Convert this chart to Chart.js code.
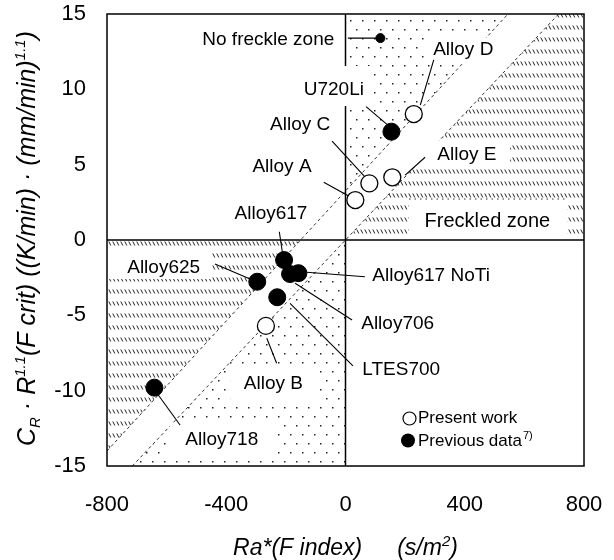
<!DOCTYPE html>
<html>
<head>
<meta charset="utf-8">
<script src="https://cdn.jsdelivr.net/npm/chart.js@4.4.0/dist/chart.umd.min.js"></script>
<style>
  html, body { margin: 0; padding: 0; background: #fff; }
</style>
</head>
<body>
<canvas id="chart" width="614" height="560"></canvas>
<script>
// values
const presentNames = ['Alloy A', 'Alloy B', 'Alloy C', 'Alloy D', 'Alloy E'];
const presentX = [33, -267, 80, 229, 157];
const presentY = [2.65, -5.7, 3.76, 8.36, 4.16];

const previousNames = ['U720Li', 'Alloy617', 'Alloy617 NoTi', 'Alloy706', 'Alloy625', 'LTES700', 'Alloy718'];
const previousX = [154, -206, -158, -186, -296, -229, -641];
const previousY = [7.19, -1.33, -2.2, -2.26, -2.77, -3.8, -9.8];

const boundX = [117];
const boundY = [13.4];

const xTicks = [-800, -400, 0, 400, 800];
const yTicks = [-15, -10, -5, 0, 5, 10, 15];

// the two dashed boundaries (end points, data units)
const upperLine = [[-800, -14.0], [545, 15]];
const lowerLine = [[-715, -15], [715, 15]];

const FONT = "'Liberation Sans', Arial, sans-serif";

function xAt(l, vy) {
    const [[x1, y1], [x2, y2]] = l;
    return x1 + (vy - y1) * (x2 - x1) / (y2 - y1);
}
function yAt(l, vx) {
    const [[x1, y1], [x2, y2]] = l;
    return y1 + (vx - x1) * (y2 - y1) / (x2 - x1);
}

// shaded zones
const zones = [
    { kind: 'dots', pts: [[0, 15], [xAt(upperLine, 15), 15], [0, yAt(upperLine, 0)]] },
    { kind: 'hatch', pts: [[xAt(lowerLine, 0), 0], [xAt(lowerLine, 15), 15], [800, 15], [800, 0]] },
    { kind: 'hatch', pts: [[-800, 0], [xAt(upperLine, 0), 0], [-800, yAt(upperLine, -800)]] },
    { kind: 'dots', pts: [[xAt(lowerLine, 0), 0], [0, 0], [0, -15], [xAt(lowerLine, -15), -15]] }
];

// labels: centre, optional white box, optional leader (data units)
const notes = [
    { text: 'No freckle zone', at: [-259, 13.32], line: [[8, 13.4], [117, 13.4]] },
    { text: 'Alloy D', at: [395, 12.61], box: [266, 13.41, 518, 11.68], line: [[296, 11.95], [251, 8.96]] },
    { text: 'U720Li', at: [-39, 10.0], box: [-153, 11.55, 86, 8.89], line: [[69, 8.85], [145, 7.57]] },
    { text: 'Alloy C', at: [-152, 7.63], line: [[-45, 6.57], [69, 4.11]] },
    { text: 'Alloy A', at: [-213, 4.87], line: [[-73, 3.83], [15, 2.87]] },
    { text: 'Alloy E', at: [407, 5.64], box: [183, 6.57, 552, 4.98], line: [[267, 5.49], [200, 4.3]] },
    { text: 'Freckled zone', at: [476, 1.22], box: [213, 2.72, 743, 0.13], dottedTop: true },
    { text: 'Alloy617', at: [-250, 1.77], line: [[-222, 0.55], [-212, -0.78]] },
    { text: 'Alloy625', at: [-610, -1.84], box: [-800, -0.86, -448, -2.59], line: [[-438, -1.59], [-320, -2.59]] },
    { text: 'Alloy617 NoTi', at: [287, -2.39], line: [[-130, -2.14], [65, -2.44]] },
    { text: 'Alloy706', at: [175, -5.53], line: [[-169, -2.87], [22, -5.31]] },
    { text: 'LTES700', at: [187, -8.58], line: [[-186, -4.2], [25, -8.36]] },
    { text: 'Alloy B', at: [-242, -9.56], box: [-387, -8.3, -89, -10.75], line: [[-231, -8.18], [-264, -6.52]] },
    { text: 'Alloy718', at: [-415, -13.23], box: [-589, -12.15, -233, -14.27], line: [[-555, -12.28], [-628, -10.29]] }
];

function makePattern(ctx, kind) {
    const t = document.createElement('canvas');
    if (kind === 'dots') {
        t.width = 12; t.height = 18;
        const g = t.getContext('2d');
        g.fillStyle = '#222';
        g.fillRect(2, 2, 1.5, 1.5);
        g.fillRect(8, 11, 1.5, 1.5);
    } else {
        t.width = 4; t.height = 12;
        const g = t.getContext('2d');
        g.strokeStyle = '#222';
        g.lineWidth = 1;
        g.beginPath();
        g.moveTo(0.8, 1.5);
        g.lineTo(2.8, 5.5);
        g.stroke();
    }
    return ctx.createPattern(t, 'repeat');
}

function drawPieces(ctx, pieces, x0, y0) {
    let x = x0;
    pieces.forEach(p => {
        ctx.font = 'italic ' + p.size + 'px ' + FONT;
        ctx.fillText(p.t, x, y0 + (p.dy || 0));
        x += ctx.measureText(p.t).width + (p.gap || 0);
    });
}
function piecesWidth(ctx, pieces) {
    let w = 0;
    pieces.forEach(p => {
        ctx.font = 'italic ' + p.size + 'px ' + FONT;
        w += ctx.measureText(p.t).width + (p.gap || 0);
    });
    return w;
}

const backdrop = {
    id: 'backdrop',
    beforeDatasetsDraw(chart) {
        const { ctx, chartArea: a, scales: { x, y } } = chart;
        const px = v => x.getPixelForValue(v);
        const py = v => y.getPixelForValue(v);
        const dots = makePattern(ctx, 'dots');
        const hatch = makePattern(ctx, 'hatch');

        ctx.save();
        ctx.beginPath();
        ctx.rect(a.left, a.top, a.width, a.height);
        ctx.clip();

        zones.forEach(z => {
            ctx.beginPath();
            z.pts.forEach(([vx, vy], i) => i ? ctx.lineTo(px(vx), py(vy)) : ctx.moveTo(px(vx), py(vy)));
            ctx.closePath();
            ctx.fillStyle = z.kind === 'dots' ? dots : hatch;
            ctx.fill();
        });

        ctx.setLineDash([3, 3]);
        ctx.lineWidth = 1;
        ctx.strokeStyle = '#333';
        [upperLine, lowerLine].forEach(l => {
            ctx.beginPath();
            ctx.moveTo(px(l[0][0]), py(l[0][1]));
            ctx.lineTo(px(l[1][0]), py(l[1][1]));
            ctx.stroke();
        });
        ctx.setLineDash([]);

        // cross at zero
        ctx.lineWidth = 1.5;
        ctx.strokeStyle = '#000';
        ctx.beginPath();
        ctx.moveTo(px(0), a.top);
        ctx.lineTo(px(0), a.bottom);
        ctx.moveTo(a.left, py(0));
        ctx.lineTo(a.right, py(0));
        ctx.stroke();

        // label boxes
        notes.forEach(n => {
            if (!n.box) return;
            const [x1, y1, x2, y2] = n.box;
            ctx.fillStyle = '#fff';
            ctx.fillRect(px(x1), py(y1), px(x2) - px(x1), py(y2) - py(y1));
            if (n.dottedTop) {
                ctx.setLineDash([1.5, 4]);
                ctx.lineWidth = 1;
                ctx.strokeStyle = '#333';
                ctx.beginPath();
                ctx.moveTo(px(x1), py(y1));
                ctx.lineTo(px(x2), py(y1));
                ctx.stroke();
                ctx.setLineDash([]);
            }
        });
        ctx.restore();

        // frame
        ctx.save();
        ctx.lineWidth = 1.5;
        ctx.strokeStyle = '#000';
        ctx.strokeRect(a.left, a.top, a.width, a.height);

        // leaders and texts
        ctx.lineWidth = 1.1;
        notes.forEach(n => {
            if (n.line) {
                ctx.beginPath();
                ctx.moveTo(px(n.line[0][0]), py(n.line[0][1]));
                ctx.lineTo(px(n.line[1][0]), py(n.line[1][1]));
                ctx.stroke();
            }
        });
        ctx.fillStyle = '#000';
        ctx.textAlign = 'center';
        ctx.textBaseline = 'middle';
        notes.forEach(n => {
            ctx.font = (n.text === 'Freckled zone' ? 20 : 19) + 'px ' + FONT;
            ctx.fillText(n.text, px(n.at[0]), py(n.at[1]));
        });
        ctx.restore();
    },
    afterDraw(chart) {
        const { ctx, chartArea: a } = chart;
        ctx.save();
        ctx.fillStyle = '#000';
        ctx.strokeStyle = '#000';

        // legend
        ctx.lineWidth = 1.2;
        ctx.beginPath();
        ctx.arc(409.5, 418.5, 6.5, 0, Math.PI * 2);
        ctx.stroke();
        ctx.beginPath();
        ctx.arc(408, 440.5, 7, 0, Math.PI * 2);
        ctx.fill();
        ctx.textBaseline = 'middle';
        ctx.textAlign = 'left';
        ctx.font = '17px ' + FONT;
        ctx.fillText('Present work', 418, 418.5);
        ctx.fillText('Previous data', 418, 441);
        const w = ctx.measureText('Previous data').width;
        ctx.font = '11px ' + FONT;
        ctx.fillText('7)', 418 + w + 1, 436);

        // axis titles
        ctx.textBaseline = 'alphabetic';
        const xt = [
            { t: 'Ra*(F index)', size: 23, gap: 35 },
            { t: '(s/m', size: 23 },
            { t: '2', size: 15, dy: -9 },
            { t: ')', size: 23 }
        ];
        const xw = piecesWidth(ctx, xt);
        drawPieces(ctx, xt, (a.left + a.right) / 2 - xw / 2, 555);

        const yt = [
            { t: 'C', size: 25 },
            { t: 'R', size: 15, dy: 5 },
            { t: ' · R', size: 25 },
            { t: '1.1', size: 15, dy: -10 },
            { t: '(F crit) ((K/min) · (mm/min)', size: 25 },
            { t: '1.1', size: 15, dy: -10 },
            { t: ')', size: 25 }
        ];
        ctx.translate(35, 238.5);
        ctx.rotate(-Math.PI / 2);
        const yw = piecesWidth(ctx, yt);
        drawPieces(ctx, yt, -yw / 2, 0);
        ctx.restore();
    }
};

function noPad(s) {
    s.paddingTop = 0;
    s.paddingBottom = 0;
    s.paddingLeft = 0;
    s.paddingRight = 0;
}

new Chart(document.getElementById('chart'), {
    type: 'scatter',
    data: {
        datasets: [
            {
                label: 'Present work',
                data: presentX.map((v, i) => ({ x: v, y: presentY[i], name: presentNames[i] })),
                pointRadius: 8.5,
                pointBackgroundColor: '#fff',
                pointBorderColor: '#000',
                pointBorderWidth: 1.3
            },
            {
                label: 'Previous data',
                data: previousX.map((v, i) => ({ x: v, y: previousY[i], name: previousNames[i] })),
                pointRadius: 8.5,
                pointBackgroundColor: '#000',
                pointBorderColor: '#000',
                pointBorderWidth: 1
            },
            {
                label: 'No freckle zone',
                data: boundX.map((v, i) => ({ x: v, y: boundY[i] })),
                pointRadius: 4.5,
                pointBackgroundColor: '#000',
                pointBorderColor: '#000',
                pointBorderWidth: 1
            }
        ]
    },
    options: {
        responsive: false,
        animation: false,
        events: [],
        layout: { padding: { left: 0, right: 30, top: 14, bottom: 0 } },
        plugins: { legend: { display: false }, tooltip: { enabled: false } },
        scales: {
            x: {
                type: 'linear',
                min: -800,
                max: 800,
                afterBuildTicks: s => { s.ticks = xTicks.map(v => ({ value: v })); },
                afterFit: s => { s.height = 94; noPad(s); },
                grid: { display: false, drawTicks: false },
                border: { display: false },
                ticks: { autoSkip: false, maxRotation: 0, padding: 26, color: '#000', font: { family: FONT, size: 22 } }
            },
            y: {
                type: 'linear',
                min: -15,
                max: 15,
                afterBuildTicks: s => { s.ticks = yTicks.map(v => ({ value: v })); },
                afterFit: s => { s.width = 107; noPad(s); },
                grid: { display: false, drawTicks: false },
                border: { display: false },
                ticks: { autoSkip: false, padding: 21, color: '#000', font: { family: FONT, size: 22 } }
            }
        }
    },
    plugins: [backdrop]
});
</script>
</body>
</html>
